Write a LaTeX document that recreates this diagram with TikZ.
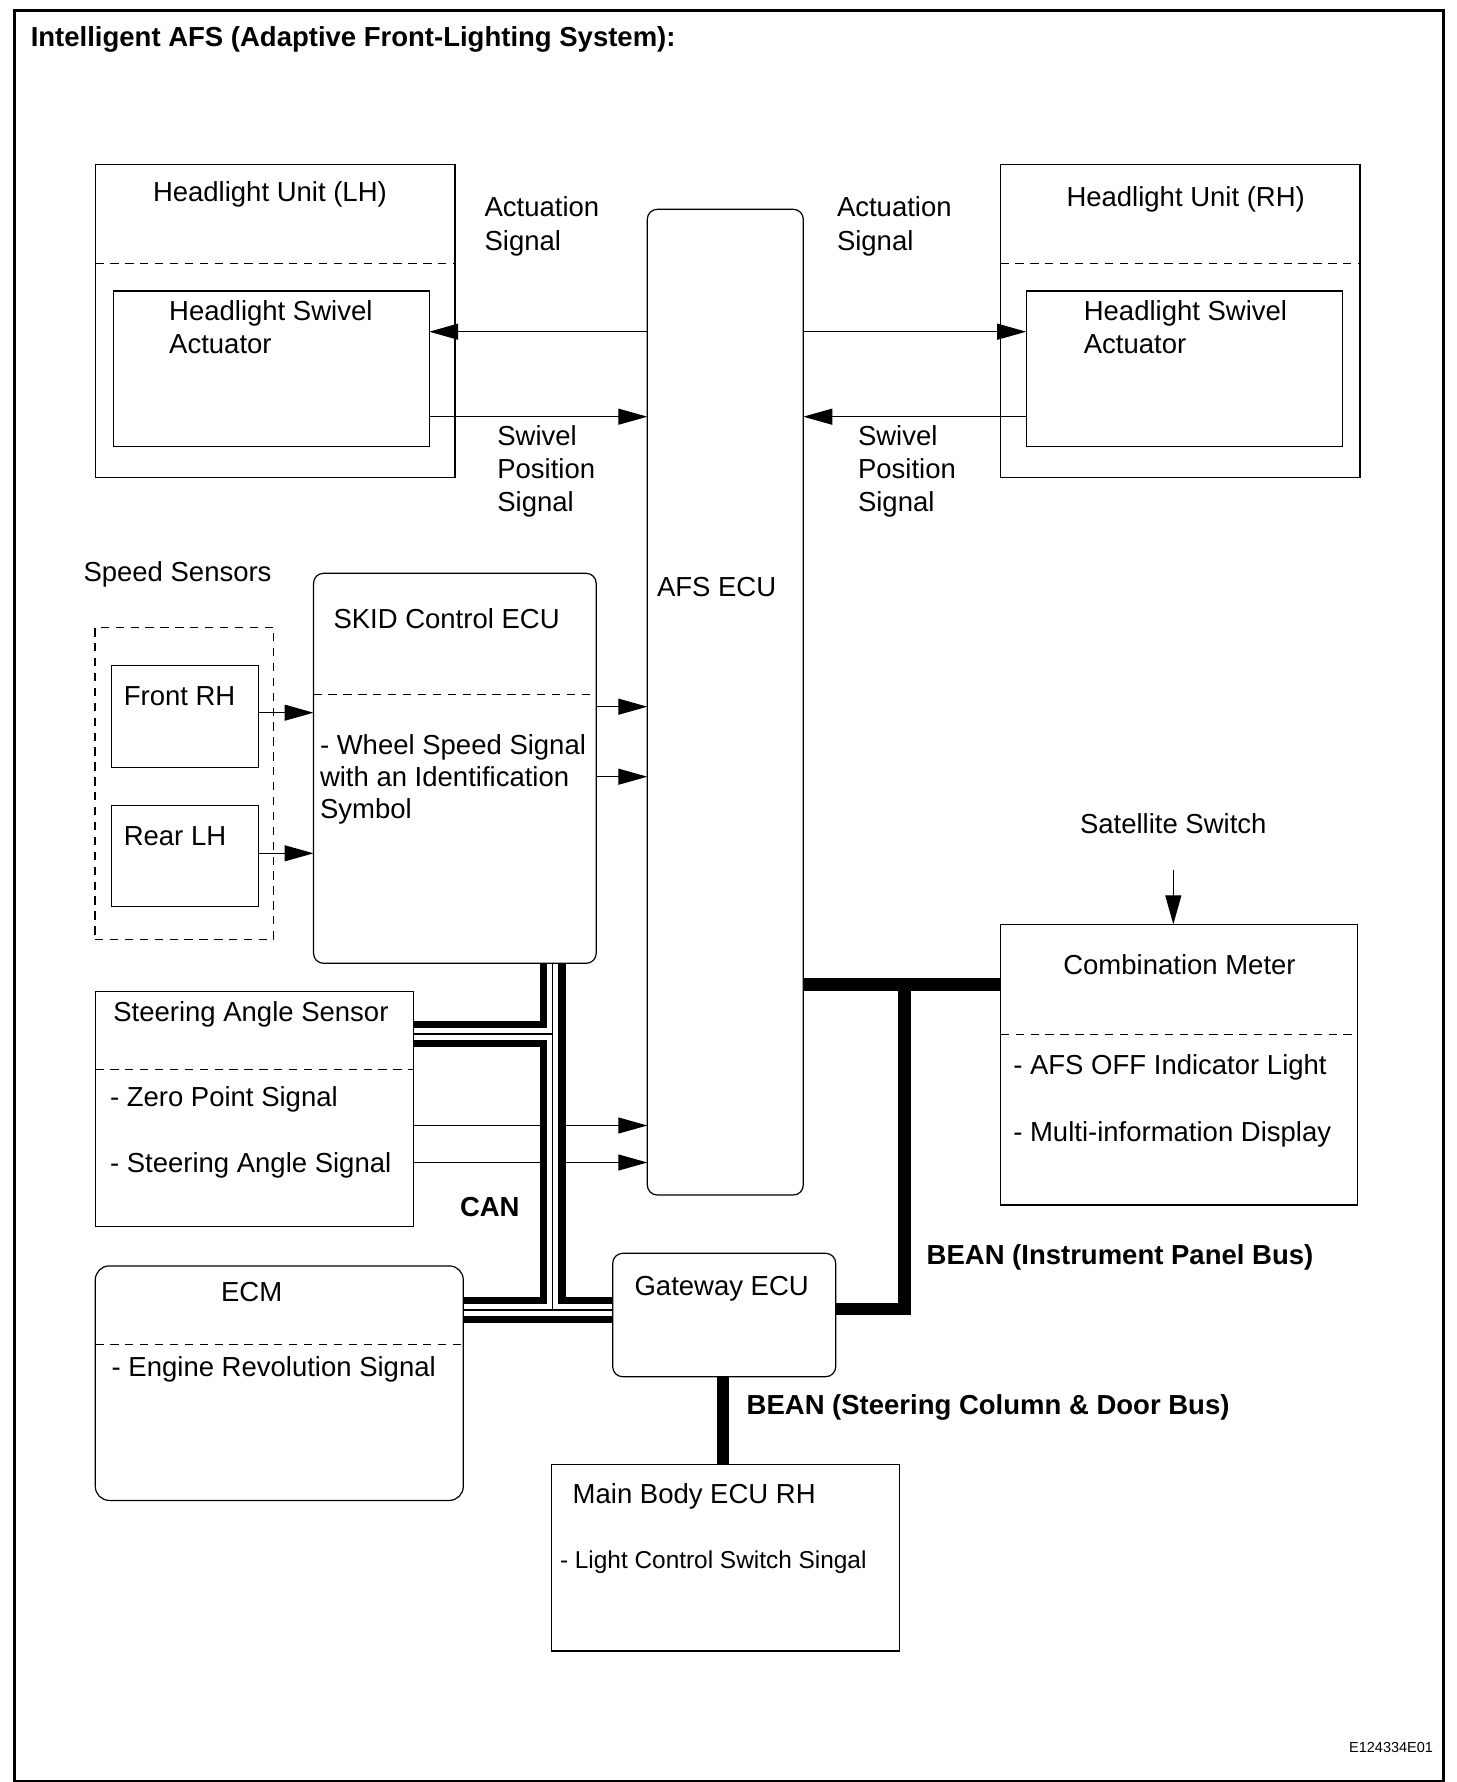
\documentclass[tikz,border=0pt]{standalone}
\usepackage{fontspec}
\setmainfont{Liberation Sans}
\usetikzlibrary{arrows.meta}
\newcommand\myfs{\fontsize{27.5}{33}\selectfont}
\newcommand\mysmallfs{\fontsize{24.4}{29}\selectfont}
\newcommand\mytinyfs{\fontsize{14.5}{17}\selectfont}
\pgfdeclarelayer{arrlayer}
\pgfdeclarelayer{buslayer}
\pgfsetlayers{arrlayer,buslayer,main}
\begin{document}
\begin{tikzpicture}[x=1pt,y=-1pt,
 box/.style={draw,line width=1.2pt,inner sep=0pt,outer sep=0pt,anchor=north west},
 rbox/.style={box,rounded corners=10pt},
 sepline/.style={line width=1.2pt,dash pattern=on 8.3pt off 6.6pt},
 lbl/.style={inner sep=0pt,outer sep=0pt,anchor=base west,font=\myfs},
 blbl/.style={lbl,font=\myfs\bfseries},
 arr/.style={line width=1.2pt,-{Triangle[length=29pt,width=16pt]}},
 canblack/.style={line width=26pt,draw=black},
 canwhite/.style={line width=11.7pt,draw=white},
 canthin/.style={line width=1.6pt,draw=black},
 bean/.style={line width=12.4pt,line join=miter},
]
\useasboundingbox (0,0) rectangle (1456,1782);
\node[draw,line width=3pt,inner sep=0pt,anchor=north west,minimum width=1429pt,minimum height=1771pt] (frame) at (13,9) {};

% ---- boxes
\node[box,minimum width=359.6pt,minimum height=313pt] (lhu) at (95.4,164.3) {};
\node[box,minimum width=315.7pt,minimum height=155.7pt] (lha) at (113.5,291) {};
\node[box,minimum width=359.6pt,minimum height=313pt] (rhu) at (1000.4,164.3) {};
\node[box,minimum width=316.1pt,minimum height=155.7pt] (rha) at (1026.2,291) {};
\node[rbox,minimum width=156pt,minimum height=985.7pt] (afs) at (647.3,209.3) {};
\node[box,sepline,minimum width=178.8pt,minimum height=312pt] (spd) at (95,627.3) {};
\node[box,minimum width=147pt,minimum height=101.6pt] (fr) at (111.5,665.7) {};
\node[box,minimum width=147pt,minimum height=101pt] (rl) at (111.5,805.7) {};
\node[rbox,minimum width=282.7pt,minimum height=390pt] (skid) at (313.5,573.3) {};
\node[box,minimum width=318pt,minimum height=234.8pt] (sas) at (95.3,991.6) {};
\node[rbox,rounded corners=14pt,minimum width=368pt,minimum height=234.5pt] (ecm) at (95.3,1265.9) {};
\node[rbox,minimum width=223pt,minimum height=123.4pt] (gw) at (612.7,1253.3) {};
\node[box,minimum width=356.6pt,minimum height=280.7pt] (cm) at (1000.7,924.3) {};
\node[box,minimum width=348pt,minimum height=186.7pt] (mb) at (551.5,1464.3) {};

% ---- dashed separators
\coordinate (dHL) at (0,263.3);
\coordinate (dSK) at (0,694.3);
\coordinate (dSA) at (0,1069.5);
\coordinate (dEC) at (0,1344.2);
\coordinate (dCM) at (0,1034.3);
\draw[sepline] (lhu.west |- dHL) -- (lhu.east |- dHL);
\draw[sepline] (rhu.west |- dHL) -- (rhu.east |- dHL);
\draw[sepline] (skid.west |- dSK) -- (skid.east |- dSK);
\draw[sepline] (sas.west |- dSA) -- (sas.east |- dSA);
\draw[sepline] (ecm.west |- dEC) -- (ecm.east |- dEC);
\draw[sepline] (cm.west |- dCM) -- (cm.east |- dCM);

% ---- texts
\node[blbl] (title) at (30.8,46.9) {Intelligent AFS (Adaptive Front-Lighting System):};
\node[lbl] (tLHU) at (153,201) {Headlight Unit (LH)};
\node[lbl] (tRHU) at (1066.5,206) {Headlight Unit (RH)};
\node[lbl] (tLA1) at (169.2,320) {Headlight Swivel};
\node[lbl] (tLA2) at (169.2,353.3) {Actuator};
\node[lbl] (tRA1) at (1083.8,320) {Headlight Swivel};
\node[lbl] (tRA2) at (1083.8,353.3) {Actuator};
\node[lbl] (tAcL1) at (484.6,216.7) {Actuation};
\node[lbl] (tAcL2) at (484.6,250) {Signal};
\node[lbl] (tAcR1) at (837,216.7) {Actuation};
\node[lbl] (tAcR2) at (837,250) {Signal};
\node[lbl] (tSwL1) at (497.3,445) {Swivel};
\node[lbl] (tSwL2) at (497.3,478.3) {Position};
\node[lbl] (tSwL3) at (497.3,511.7) {Signal};
\node[lbl] (tSwR1) at (858,445) {Swivel};
\node[lbl] (tSwR2) at (858,478.3) {Position};
\node[lbl] (tSwR3) at (858,511.7) {Signal};
\node[lbl] (tAFS) at (657,596) {AFS ECU};
\node[lbl] (tSpd) at (83.5,581.7) {Speed Sensors};
\node[lbl] (tFR) at (123.8,705) {Front RH};
\node[lbl] (tRL) at (123.8,845) {Rear LH};
\node[lbl] (tSK) at (333.5,628.3) {SKID Control ECU};
\node[lbl] (tSK1) at (320,754) {- Wheel Speed Signal};
\node[lbl] (tSK2) at (320,786) {with an Identification};
\node[lbl] (tSK3) at (320,818.3) {Symbol};
\node[lbl] (tSA) at (113.3,1021) {Steering Angle Sensor};
\node[lbl] (tSA1) at (110,1106.5) {- Zero Point Signal};
\node[lbl] (tSA2) at (110,1172.6) {- Steering Angle Signal};
\node[blbl] (tCAN) at (460,1216.7) {CAN};
\node[lbl,anchor=base] (tECM) at (251.7,1301.1) {ECM};
\node[lbl] (tECM1) at (111.7,1376.5) {- Engine Revolution Signal};
\node[lbl,anchor=base] (tGW) at (721.7,1295) {Gateway ECU};
\node[lbl] (tMB) at (572.7,1503.3) {Main Body ECU RH};
\node[lbl,font=\mysmallfs] (tMB1) at (560,1568.3) {- Light Control Switch Singal};
\node[lbl] (tSat) at (1080,833.3) {Satellite Switch};
\node[lbl,anchor=base] (tCM) at (1179.5,974) {Combination Meter};
\node[lbl] (tCM1) at (1013.3,1074) {- AFS OFF Indicator Light};
\node[lbl] (tCM2) at (1013.3,1141.7) {- Multi-information Display};
\node[blbl] (tB1) at (926.7,1264) {BEAN (Instrument Panel Bus)};
\node[blbl] (tB2) at (746.7,1414) {BEAN (Steering Column \& Door Bus)};
\node[lbl,anchor=base east,font=\mytinyfs] (tID) at (1433,1752.7) {E124334E01};

% ---- signal arrows
\coordinate (yA) at (0,331.7);
\coordinate (yS) at (0,416.7);
\coordinate (yF) at (0,712.7);
\coordinate (yR) at (0,853.3);
\coordinate (yK1) at (0,706.7);
\coordinate (yK2) at (0,776.7);
\coordinate (yZ) at (0,1125.5);
\coordinate (yG) at (0,1162.5);
\coordinate (satTop) at (1173.3,870);
\begin{pgfonlayer}{arrlayer}
\draw[arr] (afs.west |- yA) -- (lha.east |- yA);
\draw[arr] (lha.east |- yS) -- (afs.west |- yS);
\draw[arr] (afs.east |- yA) -- (rha.west |- yA);
\draw[arr] (rha.west |- yS) -- (afs.east |- yS);
\draw[arr] (fr.east |- yF) -- (skid.west |- yF);
\draw[arr] (rl.east |- yR) -- (skid.west |- yR);
\draw[arr] (skid.east |- yK1) -- (afs.west |- yK1);
\draw[arr] (skid.east |- yK2) -- (afs.west |- yK2);
\draw[arr] (sas.east |- yZ) -- (afs.west |- yZ);
\draw[arr] (sas.east |- yG) -- (afs.west |- yG);
\draw[arr] (satTop) -- (cm.north -| satTop);
\end{pgfonlayer}

% ---- CAN bus
\coordinate (canx) at (552.5,0);
\coordinate (cy1) at (0,1034);
\coordinate (cy2) at (0,1309.7);
\coordinate (cTop) at (skid.south -| canx);
\coordinate (cMid) at (canx |- cy1);
\coordinate (cBot) at (canx |- cy2);
% ---- BEAN
\coordinate (bx) at (904.5,0);
\coordinate (by1) at (0,984.5);
\coordinate (by2) at (0,1308.8);
\coordinate (bsx) at (723.3,0);
\begin{pgfonlayer}{buslayer}
\draw[canblack] (cTop) -- (cBot);
\draw[canblack] (sas.east |- cy1) -- (cMid);
\draw[canblack] (ecm.east |- cy2) -- (gw.west |- cy2);
\draw[canwhite] (cTop) -- (cBot);
\draw[canwhite] (sas.east |- cy1) -- (cMid);
\draw[canwhite] (ecm.east |- cy2) -- (gw.west |- cy2);
\draw[canthin] (cTop) -- (cBot);
\draw[canthin] (sas.east |- cy1) -- (cMid);
\draw[canthin] (ecm.east |- cy2) -- (gw.west |- cy2);
\draw[bean] (afs.east |- by1) -- (cm.west |- by1);
\draw[bean] (bx |- by1) -- (bx |- by2) -- (gw.east |- by2);
\draw[line width=12pt] (gw.south -| bsx) -- (mb.north -| bsx);
\end{pgfonlayer}
\end{tikzpicture}
\end{document}
